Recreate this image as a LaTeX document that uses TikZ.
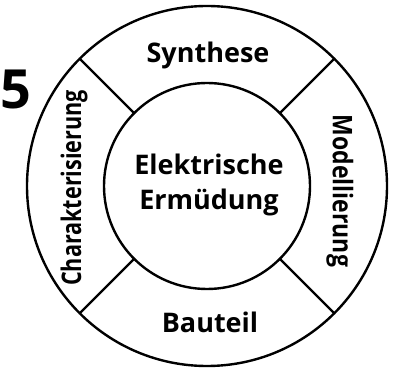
\documentclass[tikz,border=0pt]{standalone}
\usepackage{fontspec}
\setmainfont{Open Sans}
\usetikzlibrary{positioning}
\begin{document}
\begin{tikzpicture}[
    x=1pt, y=1pt,
    ring/.style={draw, circle, line width=2.4pt, minimum size=#1, inner sep=0pt, outer sep=0pt},
    divider/.style={line width=2.4pt},
    sector/.style={font=\fontsize{27}{35}\selectfont\bfseries, align=center},
  ]
  \useasboundingbox (0,0) rectangle (394,370);
  \clip (0,0) rectangle (394,370);
  \node[ring=360pt] (outer) at (207,184) {};
  \node[ring=206pt] (inner) at (outer.center) {};
  % dividers between the four fields
  \foreach \a in {45,135,225,315}
    \draw[divider] (inner.\a) -- (outer.\a);
  \node[sector] (core) at (209,185) {Elektrische\\Ermüdung};
  \node[sector] (synth) at (208,315) {Synthese};
  \node[sector, rotate=-90, xscale=0.85] (modell) at (340,179) {Modellierung};
  \node[sector] (bauteil) at (210,48) {Bauteil};
  \node[sector, rotate=90, xscale=0.8] (charak) at (74,182) {Charakterisierung};
  \node[anchor=west, inner sep=0pt, font=\fontsize{54}{54}\selectfont\bfseries] (num) at (0,281) {5};
\end{tikzpicture}
\end{document}
